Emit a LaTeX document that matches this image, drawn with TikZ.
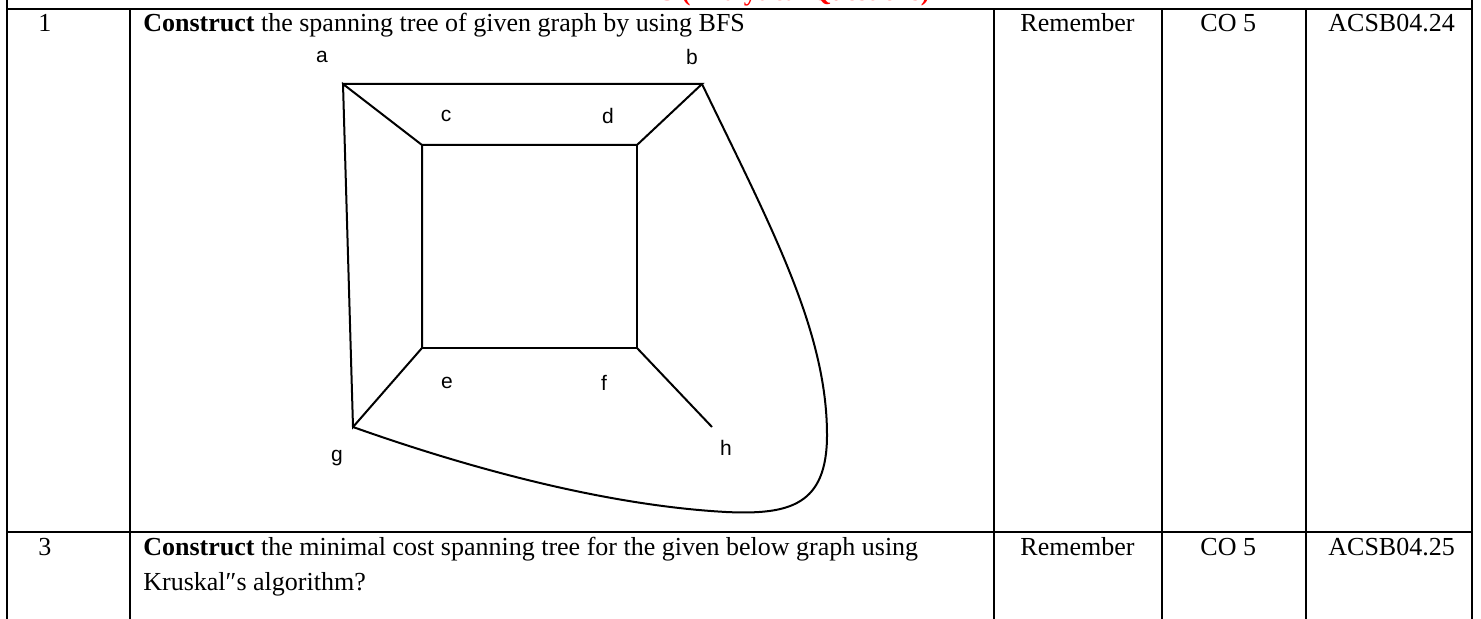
\documentclass[tikz,border=0pt]{standalone}
\usepackage{fontspec}
\setmainfont{Liberation Serif}
\newfontfamily\arialfont{Liberation Sans}
\usetikzlibrary{positioning}

\begin{document}
\begin{tikzpicture}[x=0.5pt,y=-0.5pt,
  rule/.style={line width=1.1pt},
  edge/.style={line width=1pt,line join=miter},
  vlabel/.style={font=\arialfont\fontsize{10.5}{12}\selectfont,inner sep=0pt},
  celltext/.style={font=\fontsize{13}{15}\selectfont,inner sep=0pt,anchor=base west}]
\useasboundingbox (0,0) rectangle (1481,619);
% heading of the part above, cut by the page
\begin{scope}
\clip (0,0) rectangle (1481,9);
\node[font=\bfseries\fontsize{13}{15}\selectfont,text=red,inner sep=0pt,anchor=base] (part) at (793,1) {C (Analytical Questions)};
\end{scope}
% table rules
\draw[rule] (7,0) -- (7,619);
\draw[rule] (1472,0) -- (1472,619);
\draw[rule] (7,9) -- (1472,9);
\draw[rule] (7,532) -- (1472,532);
\foreach \x in {130,994,1162,1306} \draw[rule] (\x,9) -- (\x,619);
% row 1
\node[celltext] (n1) at (38,32) {1};
\node[celltext] (q1) at (143,32) {\textbf{Construct} the spanning tree of given graph by using BFS};
\node[celltext] (bl1) at (1020,32) {Remember};
\node[celltext] (co1) at (1200,32) {CO 5};
\node[celltext] (id1) at (1328,32) {ACSB04.24};
% graph
\coordinate (a) at (343,84);
\coordinate (b) at (702,84);
\coordinate (c) at (422,145);
\coordinate (d) at (637,145);
\coordinate (e) at (422,348);
\coordinate (f) at (637,348);
\coordinate (g) at (353,427);
\coordinate (h) at (712,427);
\node[vlabel] (la) at (322,57) {a};
\node[vlabel] (lb) at (692,57) {b};
\node[vlabel] (lc) at (446,116) {c};
\node[vlabel] (ld) at (608,116) {d};
\node[vlabel] (le) at (447,383) {e};
\node[vlabel] (lf) at (604,383) {f};
\node[vlabel] (lg) at (337,458) {g};
\node[vlabel] (lh) at (726,448) {h};
\draw[edge] (a) -- (b) -- (d) -- (c) -- (a) -- (g) -- (e) -- (c);
\draw[edge] (d) -- (f) -- (e);
\draw[edge] (f) -- (h);
\draw[edge] (b) .. controls (770,225) and (827,330) .. (827,435)
  .. controls (827,505) and (790,515) .. (726,512)
  .. controls (600,505) and (460,465) .. (g);
% row 3
\node[celltext] (n3) at (38,555) {3};
\node[celltext] (q3) at (143,555) {\textbf{Construct} the minimal cost spanning tree for the given below graph using};
\node[celltext] (q3b) at (143,590) {Kruskal″s algorithm?};
\node[celltext] (bl3) at (1020,555) {Remember};
\node[celltext] (co3) at (1200,555) {CO 5};
\node[celltext] (id3) at (1328,555) {ACSB04.25};
\end{tikzpicture}
\end{document}
